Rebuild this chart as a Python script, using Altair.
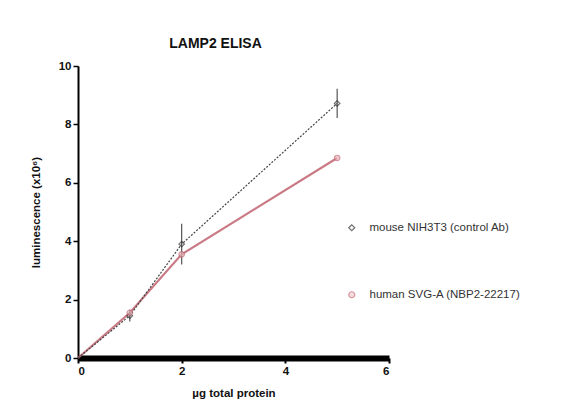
import altair as alt
import pandas as pd

protein = [0, 1, 2, 5]
mouse_vals = [0.0, 1.45, 3.9, 8.72]
mouse_err = [0.0, 0.2, 0.7, 0.5]
human_vals = [0.0, 1.55, 3.55, 6.85]
human_err = [0.0, 0.1, 0.1, 0.1]
series_names = ["mouse NIH3T3 (control Ab)", "human SVG-A (NBP2-22217)"]

rows = []
for name, vals, errs in [(series_names[0], mouse_vals, mouse_err), (series_names[1], human_vals, human_err)]:
    for x, v, e in zip(protein, vals, errs):
        rows.append({"series": name, "x": x, "y": v, "lo": v - e, "hi": v + e})
df = pd.DataFrame(rows)

FONT = "Liberation Sans"
color_scale = alt.Scale(domain=series_names, range=["#333333", "#c46b77"])
shape_scale = alt.Scale(domain=series_names, range=["diamond", "circle"])

xs = alt.Scale(domain=[0, 6], nice=False)
ys = alt.Scale(domain=[0, 10], nice=False)

base = alt.Chart(df)

xaxis = alt.Axis(values=[0, 2, 4, 6], title="µg total protein", grid=False)
yaxis = alt.Axis(values=[0, 2, 4, 6, 8, 10], title="luminescence (x10⁶)", grid=False)

human_line = base.transform_filter(alt.datum.series == series_names[1]).mark_line(
    strokeWidth=2.2, color="#c46b77", opacity=0.9
).encode(x=alt.X("x:Q", scale=xs, axis=xaxis), y=alt.Y("y:Q", scale=ys, axis=yaxis))

mouse_line = base.transform_filter(alt.datum.series == series_names[0]).mark_line(
    strokeDash=[2, 1.5], strokeWidth=1.2, color="#444444"
).encode(x=alt.X("x:Q", scale=xs), y=alt.Y("y:Q", scale=ys))

err = base.transform_filter(alt.datum.series == series_names[0]).mark_rule(
    strokeWidth=1.2, color="#555555"
).encode(x=alt.X("x:Q", scale=xs), y=alt.Y("lo:Q", scale=ys), y2="hi:Q")

points = base.transform_filter(alt.datum.x > 0).mark_point(size=30, strokeWidth=1.2, filled=False).encode(
    x=alt.X("x:Q", scale=xs),
    y=alt.Y("y:Q", scale=ys),
    color=alt.Color("series:N", scale=color_scale, sort=series_names,
                    legend=alt.Legend(title=None, orient="none", legendX=268, legendY=156,
                                      rowPadding=54, labelFontSize=11.5, labelFont=FONT,
                                      labelColor="#333333", symbolSize=36, labelOffset=12,
                                      symbolStrokeWidth=1.2)),
    shape=alt.Shape("series:N", scale=shape_scale, sort=series_names, legend=None),
    fill=alt.Fill("series:N", scale=alt.Scale(domain=series_names, range=["transparent", "#eab8be"]), legend=None),
)

chart = alt.layer(human_line, mouse_line, err, points).properties(
    width=311, height=292,
    title=alt.Title("LAMP2 ELISA", fontSize=14, font=FONT, fontWeight="bold", dx=-18, offset=9, color="#111111"),
    autosize=alt.AutoSizeParams(type="none"),
    padding={"left": 70, "top": 58, "right": 169, "bottom": 42},
).configure(background="white").configure_view(stroke=None).configure_axis(
    grid=False, domainColor="#000000", tickColor="#000000", labelFont=FONT, titleFont=FONT,
    labelFontWeight="bold", titleFontWeight="bold", labelFontSize=11.5, titleFontSize=11.5,
    labelColor="#111111", titleColor="#111111", tickSize=5,
).configure_axisX(
    domainWidth=6, tickWidth=2, labelPadding=2, titlePadding=11,
).configure_axisY(
    domainWidth=2, tickWidth=1.5, labelPadding=2, titlePadding=17,
)

chart.save("out.html", embed_options={"renderer": "svg", "actions": False})
